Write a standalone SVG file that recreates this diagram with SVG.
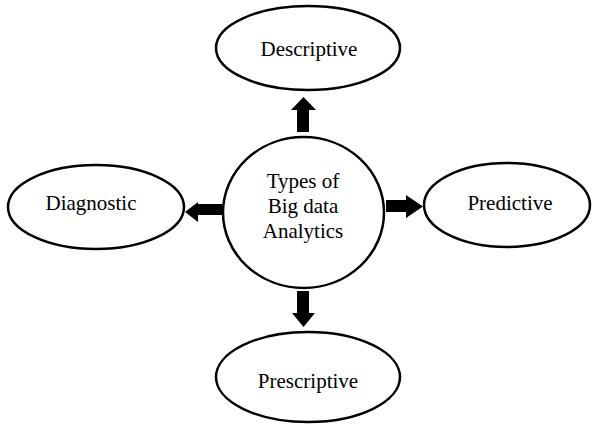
<svg xmlns="http://www.w3.org/2000/svg" width="593" height="424" viewBox="0 0 593 424">
<style>
.n{fill:#fff;stroke:#000;stroke-width:2.5}
.t{font-family:"Liberation Serif","Times New Roman",serif;font-size:21px;fill:#000;text-anchor:middle}
.a{fill:#000;stroke:none}
</style>
<rect width="593" height="424" fill="#fff"/>
<g id="connectors">
<polygon class="a" points="297,132 297,110 291,110 303.5,97 316,110 309,110 309,132"/>
<polygon class="a" points="222,204 198,204 198,202 185,212 198,222 198,215 222,215"/>
<polygon class="a" points="386,200 406,200 406,195 423,206.5 406,218 406,212 386,212"/>
<polygon class="a" points="297,291 297,313 292,313 303.5,327 315,313 309,313 309,291"/>
</g>
<g id="center">
<ellipse class="n" cx="303.5" cy="212.5" rx="80.5" ry="75.5"/>
<text class="t" x="303" y="188">Types of</text>
<text class="t" x="303" y="213">Big data</text>
<text class="t" x="303" y="238">Analytics</text>
</g>
<g id="descriptive">
<ellipse class="n" cx="308" cy="48" rx="92" ry="42"/>
<text class="t" x="309" y="56">Descriptive</text>
</g>
<g id="diagnostic">
<ellipse class="n" cx="96" cy="207" rx="88" ry="42"/>
<text class="t" x="91" y="210">Diagnostic</text>
</g>
<g id="predictive">
<ellipse class="n" cx="507" cy="205" rx="83" ry="42"/>
<text class="t" x="510" y="210">Predictive</text>
</g>
<g id="prescriptive">
<ellipse class="n" cx="308" cy="377" rx="92" ry="45"/>
<text class="t" x="308" y="388">Prescriptive</text>
</g>
</svg>
